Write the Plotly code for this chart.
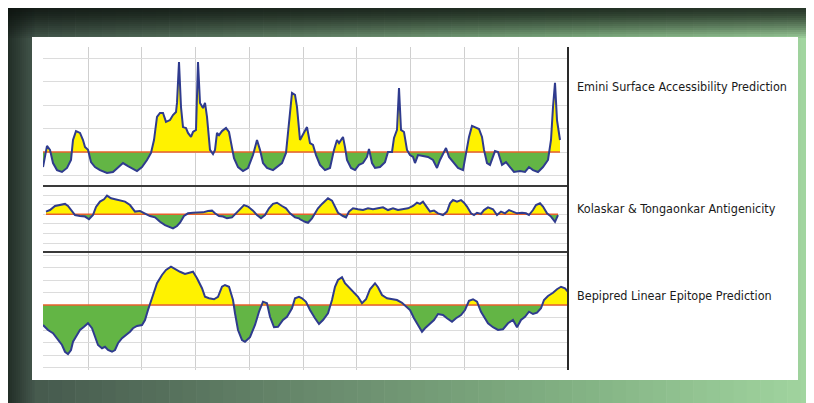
import plotly.graph_objects as go

W, H = 814, 403
OX, OY = 8, 8          # the page body margin; figure starts here
FW, FH = W - OX, H - OY

# ---------------- data ----------------
emini_pos = [0,4,7,10,14,19,24,28,30,33,37,40,42,45,48,52,57,64,70,75,
             80,85,90,94,99,104,108,111,114,117,120,123,127,130,133,134,136,138,140,143,
             145,148,150,153,155,157,160,162,164,167,170,172,174,176,179,183,186,189,191,195,
             200,205,210,214,217,220,224,230,234,239,243,246,249,252,254,257,260,264,267,270,
             273,277,282,287,291,294,296,300,302,304,308,312,316,320,324,326,329,332,337,342,
             345,349,351,354,356,358,361,364,367,370,372,375,380,385,390,394,397,401,403,406,
             411,415,420,423,426,429,432,436,439,441,444,447,452,455,459,463,467,471,477,482,
             486,490,495,500,505,508,510,512,514,517]
emini_val = [0.36,1.26,1.09,0.53,0.23,0.15,0.32,0.66,1.51,1.89,
             1.81,1.51,1.21,1.09,0.57,0.36,0.23,0.11,0.15,0.36,
             0.53,0.40,0.28,0.19,0.36,0.66,0.96,1.51,2.49,2.66,
             2.66,2.28,2.36,2.57,2.70,3.09,4.83,2.91,2.06,2.02,
             1.81,1.64,1.85,1.94,4.83,3.09,2.87,3.09,2.49,1.09,
             0.91,1.09,1.81,1.72,1.89,2.02,1.85,1.21,0.74,0.36,
             0.19,0.32,0.87,1.51,1.09,0.53,0.32,0.23,0.36,0.53,
             0.96,2.36,3.51,3.43,2.91,1.51,1.72,2.06,1.38,1.30,
             0.87,0.45,0.23,0.32,1.09,1.51,1.38,1.64,1.21,0.66,
             0.32,0.23,0.45,0.53,0.79,1.13,0.53,0.32,0.36,0.57,
             1.00,1.00,1.60,1.94,3.72,1.94,1.85,1.09,0.87,0.79,
             0.53,0.87,0.83,0.79,0.66,0.32,0.66,0.96,1.17,0.79,
             0.53,0.32,0.23,0.96,1.64,2.11,2.06,1.98,1.64,1.09,
             0.53,0.45,1.04,1.00,0.45,0.57,0.36,0.15,0.19,0.15,
             0.36,0.23,0.15,0.36,0.66,1.51,2.91,3.94,2.36,1.51]
emini_threshold = 1.0

kolaskar_pos = [3,7,12,17,22,25,29,32,37,42,46,50,53,57,61,64,68,72,77,82,
                87,92,97,102,107,112,117,122,127,130,134,137,141,145,150,155,160,165,169,172,
                176,180,184,189,193,197,201,205,210,214,218,222,226,230,234,239,243,247,252,256,
                257,262,265,269,272,275,279,282,285,289,292,295,300,303,306,310,315,320,325,330,
                335,340,345,350,355,360,365,370,374,377,380,384,387,391,395,400,404,407,410,414,
                418,421,424,428,431,434,438,441,445,450,454,458,462,466,470,474,479,483,486,490,
                493,497,500,504,508,512,515]
kolaskar_val = [1.014,1.022,1.043,1.048,1.054,1.043,1.019,0.996,0.991,0.988,
                0.974,0.996,1.038,1.066,1.078,1.097,1.083,1.078,1.074,1.066,
                1.048,1.014,1.017,1.005,0.991,0.984,0.961,0.944,0.932,0.927,
                0.939,0.956,0.991,1.005,1.008,1.008,1.010,1.017,1.019,1.005,
                0.991,0.988,0.979,0.984,1.005,1.031,1.048,1.040,1.019,0.996,
                0.979,0.996,1.031,1.054,1.060,1.043,1.031,1.005,0.984,0.979,
                0.974,0.961,0.956,0.979,1.005,1.031,1.054,1.071,1.083,1.071,
                1.043,1.008,0.991,0.984,1.014,1.031,1.026,1.022,1.031,1.026,
                1.031,1.036,1.022,1.031,1.022,1.026,1.031,1.043,1.060,1.054,
                1.066,1.036,1.014,1.019,1.005,0.996,1.014,1.057,1.074,1.066,
                1.074,1.060,1.040,1.005,0.996,1.008,1.002,1.022,1.036,1.026,
                0.996,1.014,1.005,1.022,1.014,1.005,1.008,1.005,0.996,1.022,
                1.048,1.057,1.040,1.005,0.988,0.961,0.996]
kolaskar_threshold = 1.0

bepipred_pos = [0,5,10,15,19,22,25,28,30,34,37,41,45,49,52,55,59,62,65,69,
                72,75,79,83,87,90,94,99,102,105,108,111,114,119,123,128,132,137,142,146,
                150,154,159,162,166,171,175,179,182,186,190,192,195,199,202,207,212,216,220,224,
                227,231,235,240,244,249,252,256,
                259,263,267,272,276,280,285,289,292,295,299,302,306,310,315,319,323,327,332,335,
                339,344,349,354,359,363,367,371,375,379,382,386,391,395,400,404,409,413,418,422,
                426,430,434,438,441,445,450,455,460,465,470,474,478,482,486,490,494,498,501,505,
                510,514,518,522,525]
bepipred_val = [-0.45,-0.65,-0.78,-1.02,-1.25,-1.52,-1.61,-1.45,-1.12,-0.85,
                -0.65,-0.52,-0.38,-0.58,-0.92,-1.25,-1.38,-1.32,-1.45,-1.52,
                -1.45,-1.18,-0.98,-0.85,-0.72,-0.58,-0.49,-0.45,-0.25,0.15,
                0.48,0.88,1.22,1.55,1.75,1.88,1.78,1.68,1.59,1.64,
                1.68,1.42,1.02,0.68,0.62,0.58,0.68,1.08,1.15,1.08,
                0.55,0.02,-0.65,-1.05,-1.12,-0.94,-0.45,0.08,0.48,0.42,
                -0.12,-0.54,-0.52,-0.25,-0.12,0.22,0.62,0.68,
                0.62,0.48,0.15,-0.18,-0.41,-0.25,0.02,0.55,1.08,1.35,
                1.46,1.22,1.06,0.88,0.68,0.42,0.58,0.98,1.22,1.06,
                0.75,0.62,0.58,0.55,0.44,0.31,0.15,-0.18,-0.45,-0.72,
                -0.58,-0.45,-0.25,-0.01,-0.05,-0.18,-0.32,-0.18,-0.05,0.15,
                0.52,0.58,0.48,0.08,-0.12,-0.38,-0.54,-0.65,-0.62,-0.38,
                -0.25,-0.54,-0.25,-0.12,0.08,-0.01,0.04,0.22,0.55,0.71,
                0.84,0.98,1.08,1.02,0.88]
bepipred_threshold = 0.35

panel_labels = ["Emini Surface Accessibility Prediction",
                "Kolaskar & Tongaonkar Antigenicity",
                "Bepipred Linear Epitope Prediction"]

# ---------------- style ----------------
YELLOW = "#fff200"
GREEN = "#63b545"
LINE = "#2f3b8e"
THRESH = "#e8602c"

def px_x(x):
    return (x - OX) / FW

def px_y(y):
    return 1 - (y - OY) / FH

X_LEFT, X_RIGHT = 43, 568
panels = [  # (top px, bottom px, y range, grid tick0, dtick)
    (47, 186, [-0.447, 5.468], 0, 1),
    (186, 252, [0.804, 1.147], 1.0, 0.05),
    (252, 370, [-2.25, 2.47], 0.35, 0.5),
]

fig = go.Figure()

def split_fill(xs, ys, t):
    xx, yy = [xs[0]], [ys[0]]
    for i in range(1, len(xs)):
        x0, y0, x1, y1 = xs[i - 1], ys[i - 1], xs[i], ys[i]
        if (y0 - t) * (y1 - t) < 0:
            xx.append(x0 + (t - y0) * (x1 - x0) / (y1 - y0))
            yy.append(t)
        xx.append(x1)
        yy.append(y1)
    return xx, yy

series = [(emini_pos, emini_val, emini_threshold),
          (kolaskar_pos, kolaskar_val, kolaskar_threshold),
          (bepipred_pos, bepipred_val, bepipred_threshold)]

for i, (xs, ys, t) in enumerate(series):
    k = "" if i == 0 else str(i + 1)
    xa, ya = "x" + k, "y" + k
    xx, yy = split_fill(xs, ys, t)
    up = [max(v, t) for v in yy]
    lo = [min(v, t) for v in yy]
    fig.add_trace(go.Scatter(x=xx + xx[::-1], y=up + [t] * len(xx), fill="toself",
                             fillcolor=YELLOW, line=dict(width=0), mode="lines",
                             hoverinfo="skip", xaxis=xa, yaxis=ya, showlegend=False))
    fig.add_trace(go.Scatter(x=xx + xx[::-1], y=lo + [t] * len(xx), fill="toself",
                             fillcolor=GREEN, line=dict(width=0), mode="lines",
                             hoverinfo="skip", xaxis=xa, yaxis=ya, showlegend=False))
    fig.add_trace(go.Scatter(x=[xs[0], xs[-1]], y=[t, t], mode="lines",
                             line=dict(color=THRESH, width=1.6),
                             xaxis=xa, yaxis=ya, showlegend=False))
    fig.add_trace(go.Scatter(x=xs, y=ys, mode="lines",
                             line=dict(color=LINE, width=2.0, shape="linear"),
                             xaxis=xa, yaxis=ya, showlegend=False))

layout = dict(width=FW, height=FH, margin=dict(l=0, r=0, t=0, b=0),
              paper_bgcolor="white", plot_bgcolor="rgba(0,0,0,0)", showlegend=False)

for i, (top, bot, yr, t0, dt) in enumerate(panels):
    k = "" if i == 0 else str(i + 1)
    layout["xaxis" + k] = dict(domain=[px_x(X_LEFT), px_x(X_RIGHT)], range=[0, 525],
                               showticklabels=False, zeroline=False, showline=False,
                               showgrid=True, gridcolor="#cfcfcf", gridwidth=1,
                               tick0=45, dtick=53.75, ticks="",
                               anchor="y" + k, fixedrange=True)
    layout["yaxis" + k] = dict(domain=[px_y(bot), px_y(top)], range=yr,
                               showticklabels=False, zeroline=False, showline=False,
                               showgrid=True, gridcolor="#dcdcdc", gridwidth=1,
                               tick0=t0, dtick=dt, ticks="",
                               anchor="x" + k, fixedrange=True)

# ---------------- background frame (gradient made of strips) ----------------
shapes = []
stops = [(0.0, (66, 84, 74)), (0.4, (106, 140, 110)), (0.7, (130, 177, 131)), (1.0, (162, 214, 160))]

def grad(f):
    for j in range(len(stops) - 1):
        a, ca = stops[j]
        b, cb = stops[j + 1]
        if a <= f <= b:
            u = (f - a) / (b - a)
            return tuple(int(ca[c] + (cb[c] - ca[c]) * u) for c in range(3))
    return stops[-1][1]

n = 60
for j in range(n):
    xa_ = OX + FW * j / n
    xb_ = OX + FW * (j + 1) / n + 0.6
    c = grad((xa_ + xb_) / 2 / W)
    shapes.append(dict(type="rect", xref="paper", yref="paper", layer="below",
                       x0=px_x(xa_), x1=px_x(min(xb_, W)), y0=0, y1=1,
                       fillcolor="rgb(%d,%d,%d)" % c, line=dict(width=0)))
# top dark band
for j in range(15):
    ya_ = OY + j * 2
    op = 0.8 * (1 - (j / 15) ** 1.3)
    shapes.append(dict(type="rect", xref="paper", yref="paper", layer="below",
                       x0=0, x1=1, y0=px_y(ya_ + 2), y1=px_y(ya_),
                       fillcolor="rgba(10,16,12,%.3f)" % op, line=dict(width=0)))
# left dark band
for j in range(13):
    xa_ = OX + j * 2
    op = 0.55 * (1 - j / 13)
    shapes.append(dict(type="rect", xref="paper", yref="paper", layer="below",
                       x0=px_x(xa_), x1=px_x(xa_ + 2), y0=0, y1=1,
                       fillcolor="rgba(10,16,12,%.3f)" % op, line=dict(width=0)))
# white panel
shapes.append(dict(type="rect", xref="paper", yref="paper", layer="below",
                   x0=px_x(32), x1=px_x(798), y0=px_y(380), y1=px_y(37),
                   fillcolor="white", line=dict(width=0)))
# separators and right axis line
for yy_ in (186, 252):
    shapes.append(dict(type="line", xref="paper", yref="paper", layer="above",
                       x0=px_x(X_LEFT), x1=px_x(X_RIGHT), y0=px_y(yy_), y1=px_y(yy_),
                       line=dict(color="#3a3a3a", width=2)))
shapes.append(dict(type="line", xref="paper", yref="paper", layer="above",
                   x0=px_x(X_RIGHT), x1=px_x(X_RIGHT), y0=px_y(370), y1=px_y(47),
                   line=dict(color="#2a2a2a", width=2)))
layout["shapes"] = shapes

label_y = [87, 208, 295]
layout["annotations"] = [
    dict(text=txt, xref="paper", yref="paper", x=px_x(575), y=px_y(yy_),
         xanchor="left", yanchor="middle", showarrow=False,
         font=dict(family="Liberation Sans Narrow, DejaVu Sans Condensed, sans-serif",
                   size=12.5, color="#1a1a1a"))
    for txt, yy_ in zip(panel_labels, label_y)
]

fig.update_layout(**layout)
fig.write_html("out.html")
